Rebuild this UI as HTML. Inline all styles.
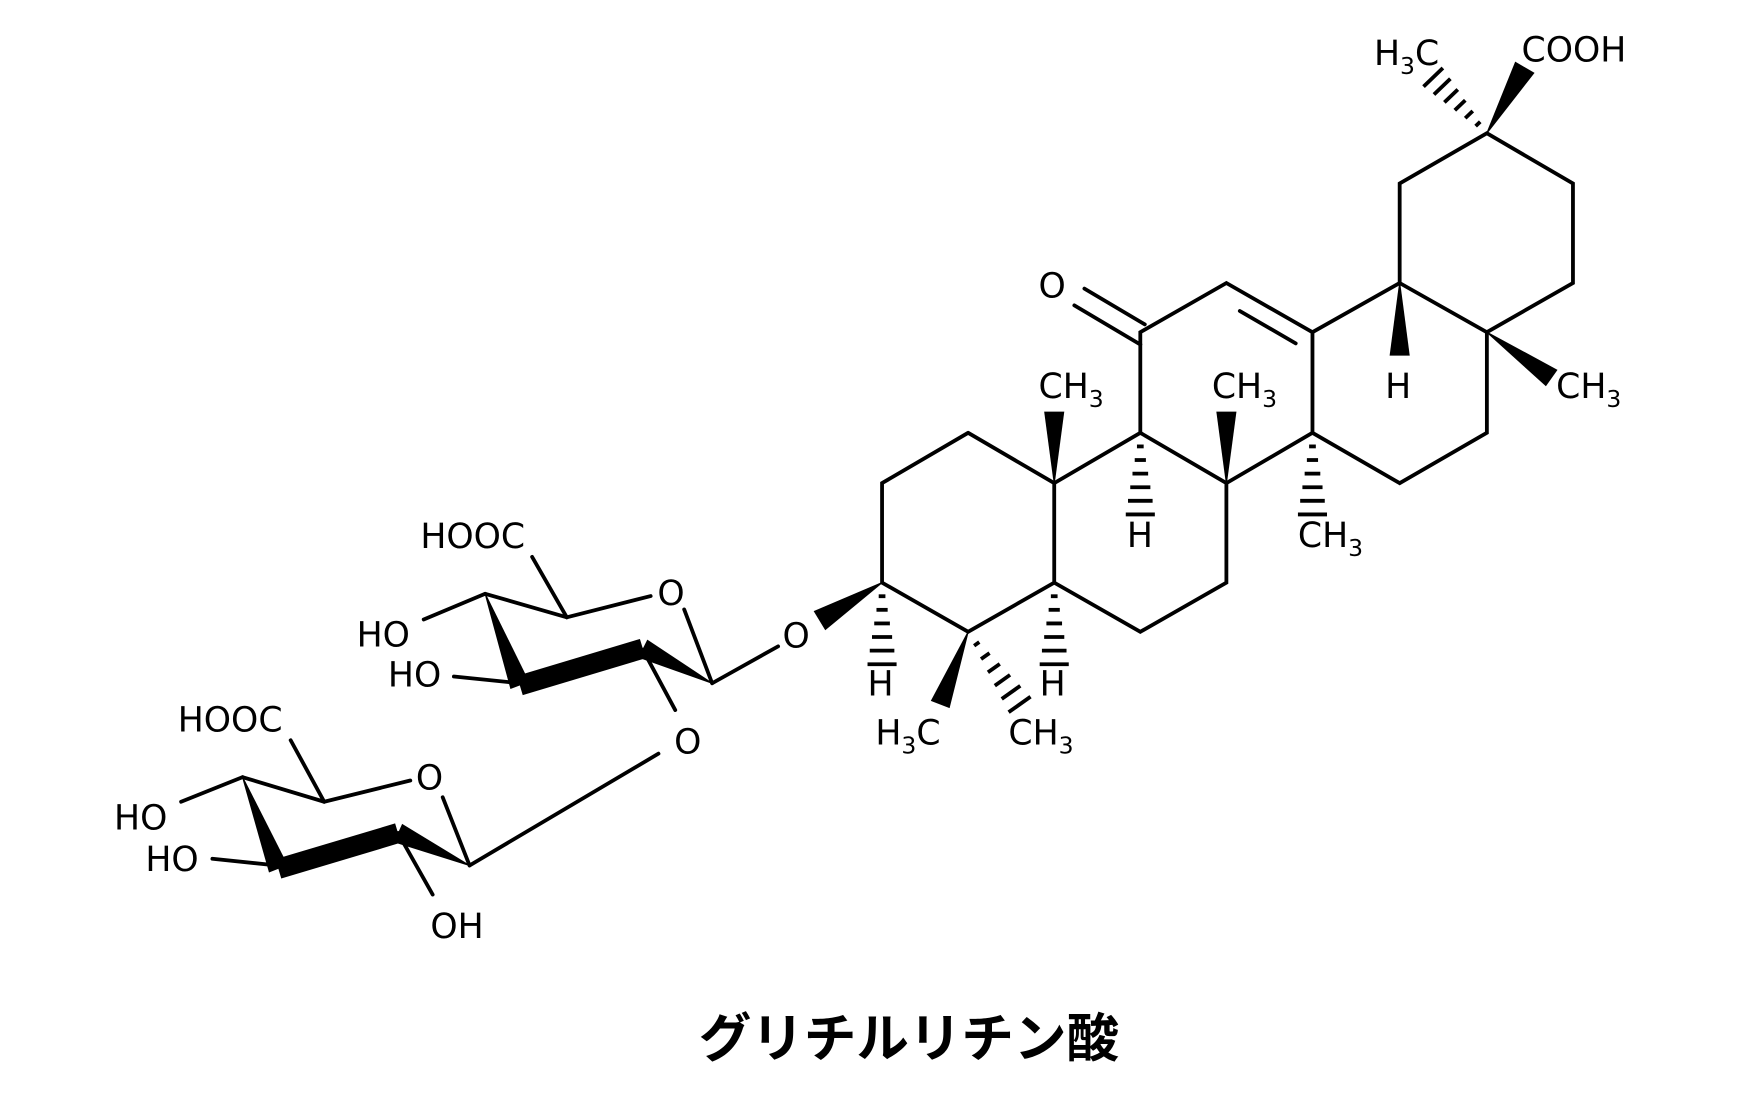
<!DOCTYPE html>
<html><head><meta charset="utf-8"><style>
html,body{margin:0;padding:0;background:#fff;}
svg{display:block;}
text{font-family:"DejaVu Sans","Liberation Sans",sans-serif;font-size:31px;fill:#000;}
.t{font-family:"Noto Sans CJK JP",sans-serif;font-size:47px;font-weight:bold;}
</style></head><body>
<svg id="s" width="1744" height="1106" viewBox="0 0 1560 989" xmlns="http://www.w3.org/2000/svg">
<g transform="translate(-4,-2)">
<g stroke="#000" stroke-width="3.4" fill="none" stroke-linecap="round">
<polyline points="870,389 793,434 793,523 870,567 947,523 947,434 870,389"/>
<polyline points="947,523 1024,567 1101,523 1101,434 1024,389 947,434"/>
<polyline points="1024,389 1024,299 1101,255 1178,299 1178,389 1101,434"/>
<line x1="1113" y1="280" x2="1163" y2="309"/>
<polyline points="1178,299 1256,255 1334,299 1334,389 1256,434 1178,389"/>
<polyline points="1256,255 1256,166 1334,121 1411,166 1411,255 1334,299"/>
<line x1="974" y1="260" x2="1028" y2="292"/>
<line x1="965" y1="275" x2="1024" y2="310"/>
</g>
<g id="w1" fill="#000"></g>
<g id="h1" stroke="#000" stroke-width="3.4"></g>
<text x="933" y="268">O</text>
<text x="933" y="358">CH<tspan font-size="21" dy="8">3</tspan></text>
<text x="1088" y="358">CH<tspan font-size="21" dy="8">3</tspan></text>
<text x="1243" y="358">H</text>
<text x="1396" y="358">CH<tspan font-size="21" dy="8">3</tspan></text>
<text x="1012" y="491">H</text>
<text x="1165" y="491">CH<tspan font-size="21" dy="8">3</tspan></text>
<text x="1233" y="60">H<tspan font-size="21" dy="8">3</tspan><tspan dy="-8">C</tspan></text>
<text x="1365" y="57">COOH</text>
<text x="780" y="624">H</text>
<text x="934" y="624">H</text>
<text x="787" y="668">H<tspan font-size="21" dy="8">3</tspan><tspan dy="-8">C</tspan></text>
<text x="906" y="668">CH<tspan font-size="21" dy="8">3</tspan></text>
</g>
<g transform="translate(-1,-1)">
<g stroke="#000" stroke-width="3.4" fill="none" stroke-linecap="round">
<line x1="508" y1="553" x2="583" y2="534"/>
<line x1="613" y1="546" x2="638" y2="612"/>
<line x1="638" y1="612" x2="697" y2="579"/>
<line x1="435" y1="532" x2="508" y2="553"/>
<line x1="508" y1="553" x2="477" y2="499"/>
<line x1="435" y1="532" x2="380" y2="555"/>
<line x1="466" y1="612" x2="407" y2="606"/>
<line x1="576" y1="582" x2="605" y2="636"/>
<line x1="590" y1="675" x2="421" y2="775"/>
<line x1="291" y1="718" x2="368" y2="699"/>
<line x1="397" y1="714" x2="421" y2="775"/>
<line x1="218" y1="696" x2="291" y2="718"/>
<line x1="291" y1="718" x2="261" y2="663"/>
<line x1="218" y1="696" x2="163" y2="718"/>
<line x1="249" y1="775" x2="191" y2="769"/>
<line x1="357" y1="746" x2="388" y2="801"/>
</g>
<g id="w2" fill="#000"></g>
<text x="701" y="580">O</text>
<text x="377" y="491">HOOC</text>
<text x="589" y="542">O</text>
<text x="320" y="579">HO</text>
<text x="348" y="615">HO</text>
<text x="604" y="675">O</text>
<text x="160" y="655">HOOC</text>
<text x="373" y="707">O</text>
<text x="103" y="743">HO</text>
<text x="131" y="780">HO</text>
<text x="386" y="840">OH</text>
</g>
<text class="t" x="813" y="945" text-anchor="middle">グリチルリチン酸</text>
</svg>
<script>
var NS="http://www.w3.org/2000/svg";
function wedge(g,ax,ay,bx,by,w0,w1){var dx=bx-ax,dy=by-ay,l=Math.hypot(dx,dy),nx=-dy/l,ny=dx/l;
var p=document.createElementNS(NS,"polygon");
p.setAttribute("points",[ax+nx*w0/2,ay+ny*w0/2,bx+nx*w1/2,by+ny*w1/2,bx-nx*w1/2,by-ny*w1/2,ax-nx*w0/2,ay-ny*w0/2].join(" "));
document.getElementById(g).appendChild(p);}
function hash(ax,ay,bx,by,w,n){var dx=bx-ax,dy=by-ay,l=Math.hypot(dx,dy),nx=-dy/l,ny=dx/l;
for(var i=1;i<=n;i++){var t=i/n,x=ax+dx*t,y=ay+dy*t,hw=w*t/2+1;
var L=document.createElementNS(NS,"line");L.setAttribute("x1",x+nx*hw);L.setAttribute("y1",y+ny*hw);L.setAttribute("x2",x-nx*hw);L.setAttribute("y2",y-ny*hw);
document.getElementById("h1").appendChild(L);}}
wedge("w1",947,434,947,370,1,18);
wedge("w1",1101,434,1101,370,1,18);
wedge("w1",1256,255,1256,320,1,18);
wedge("w1",1334,299,1392,340,1,18);
wedge("w1",1334,121,1368,62,1,20);
wedge("w1",793,523,737,557,1,20);
wedge("w1",870,567,845,632,1,18);
hash(1024,389,1024,462,24,6);
hash(1178,389,1178,462,24,6);
hash(793,523,793,596,24,6);
hash(947,523,947,596,24,6);
hash(870,567,916,632,22,6);
hash(1334,121,1286,71,22,6);
wedge("w2",638,612,576,581,1,18);
wedge("w2",576,581,466,614,18,18);
wedge("w2",435,532,466,614,1,18);
wedge("w2",421,775,357,746,1,18);
wedge("w2",357,746,250,778,18,18);
wedge("w2",218,696,250,778,1,18);
</script>
</body></html>
